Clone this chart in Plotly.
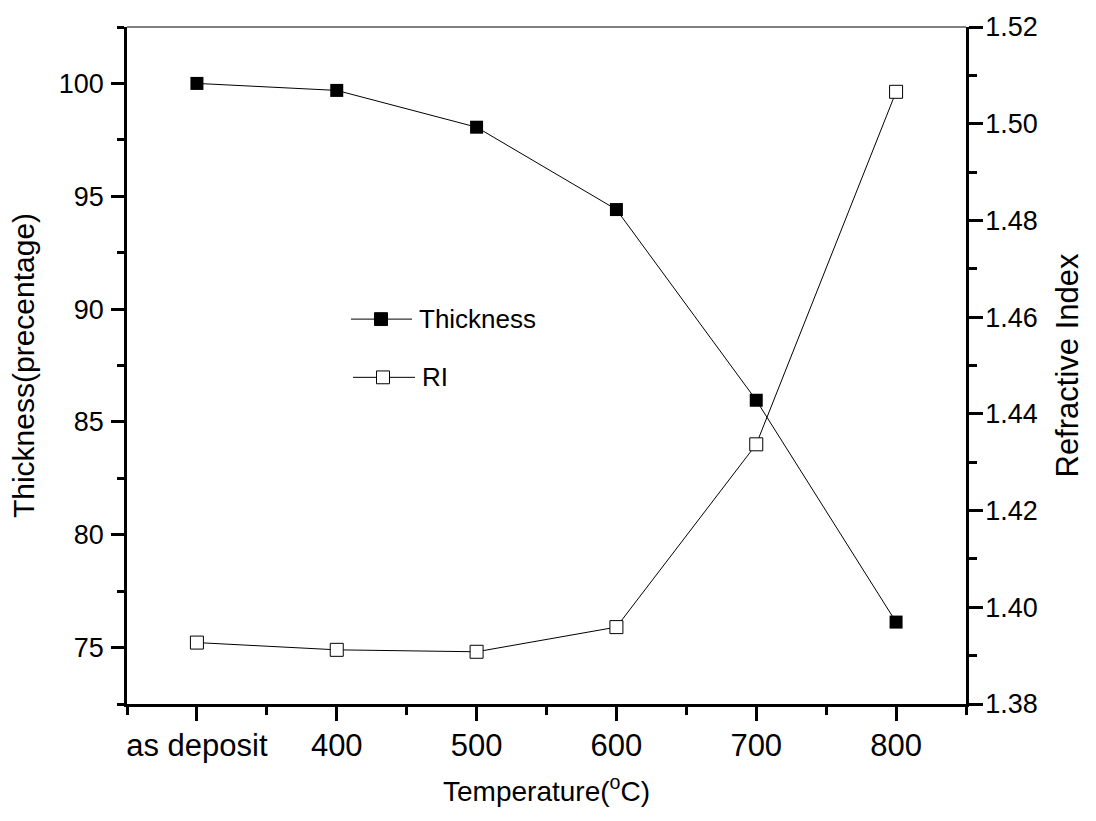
import plotly.graph_objects as go

# ---- data ----
temperatures = ["as deposit", "400", "500", "600", "700", "800"]
thickness = [100.0, 99.69, 98.06, 94.41, 85.96, 76.13]
refractive_index = [1.3927, 1.3912, 1.3908, 1.3959, 1.4337, 1.5066]

thick_ticks = [75, 80, 85, 90, 95, 100]
thick_minor = [72.5, 77.5, 82.5, 87.5, 92.5, 97.5, 102.5]
ri_ticks = [1.38, 1.40, 1.42, 1.44, 1.46, 1.48, 1.50, 1.52]
ri_minor = [1.39, 1.41, 1.43, 1.45, 1.47, 1.49, 1.51]

x_idx = list(range(len(temperatures)))

FONT = "Liberation Sans, Arial, sans-serif"
XTICK_SIZE = 31
YTICK_SIZE = 27
XTITLE_SIZE = 28
YTITLE_SIZE = 30
Y2TITLE_SIZE = 31
LEGEND_SIZE = 26

fig = go.Figure()

fig.add_trace(go.Scatter(
    x=x_idx, y=thickness, name="Thickness", mode="lines+markers",
    line=dict(color="black", width=1),
    marker=dict(symbol="square", size=13, color="black",
                line=dict(color="black", width=0)),
    showlegend=False, yaxis="y",
))
fig.add_trace(go.Scatter(
    x=x_idx, y=refractive_index, name="RI", mode="lines+markers",
    line=dict(color="black", width=1),
    marker=dict(symbol="square", size=13, color="white",
                line=dict(color="black", width=1)),
    showlegend=False, yaxis="y2",
))

# Plot area in pixels (for legend placement)
W, H = 1096, 821
L, R, T, B = 127, 130, 18, 117
pw, ph = W - L - R, H - T - B


def px(xp):
    return (xp - L) / pw


def py(yp):
    return (H - B - yp) / ph


shapes = []
annotations = []
# custom legend
legend_items = [
    ("Thickness", 351, 412, 381, 314, "black"),
    ("RI", 353, 415, 383, 373, "white"),
]
for label, x0, x1, xm, yc, fill in legend_items:
    shapes.append(dict(type="line", xref="paper", yref="paper",
                       x0=px(x0), x1=px(x1), y0=py(yc), y1=py(yc),
                       line=dict(color="black", width=1)))
    shapes.append(dict(type="rect", xref="paper", yref="paper",
                       x0=px(xm - 6.5), x1=px(xm + 6.5),
                       y0=py(yc + 6.5), y1=py(yc - 6.5),
                       fillcolor=fill, line=dict(color="black", width=1)))
    annotations.append(dict(text=label, xref="paper", yref="paper",
                            x=px(x1 + 5), y=py(yc), xanchor="left",
                            yanchor="middle", showarrow=False,
                            font=dict(family=FONT, size=LEGEND_SIZE, color="black")))

# thin top frame line
shapes.append(dict(type="line", xref="paper", yref="paper",
                   x0=0, x1=1, y0=1, y1=1,
                   line=dict(color="black", width=1)))

fig.update_layout(
    width=W, height=H,
    margin=dict(l=L, r=R, t=T, b=B),
    paper_bgcolor="white", plot_bgcolor="white",
    font=dict(family=FONT, size=YTICK_SIZE, color="black"),
    shapes=shapes, annotations=annotations,
    xaxis=dict(
        range=[-0.5, len(temperatures) - 0.5],
        tickmode="array", tickvals=x_idx, ticktext=temperatures,
        tickfont=dict(family=FONT, size=XTICK_SIZE, color="black"),
        ticks="outside", ticklen=14, tickwidth=2.5, tickcolor="black",
        showline=True, linewidth=2.5, linecolor="black",
        showgrid=False, zeroline=False,
        ticklabelstandoff=-2,
        minor=dict(tickmode="array",
                   tickvals=[i - 0.5 for i in range(len(temperatures) + 1)],
                   ticks="outside", ticklen=8, tickwidth=2.5, tickcolor="black",
                   showgrid=False),
        title=dict(text="Temperature(<sup>o</sup>C)",
                   font=dict(family=FONT, size=XTITLE_SIZE), standoff=20),
    ),
    yaxis=dict(
        range=[72.5, 102.5],
        tickmode="array", tickvals=thick_ticks,
        tickfont=dict(family=FONT, size=YTICK_SIZE, color="black"),
        ticks="outside", ticklen=13, tickwidth=2.5, tickcolor="black",
        showline=True, linewidth=2.5, linecolor="black",
        showgrid=False, zeroline=False,
        ticklabelstandoff=2,
        minor=dict(tickmode="array", tickvals=thick_minor,
                   ticks="outside", ticklen=7, tickwidth=2.5, tickcolor="black",
                   showgrid=False),
        title=dict(text="Thickness(precentage)",
                   font=dict(family=FONT, size=YTITLE_SIZE), standoff=16),
    ),
    yaxis2=dict(
        overlaying="y", side="right",
        range=[1.38, 1.52],
        tickmode="array", tickvals=ri_ticks,
        tickformat=".2f",
        tickfont=dict(family=FONT, size=YTICK_SIZE, color="black"),
        ticks="outside", ticklen=14, tickwidth=2.5, tickcolor="black",
        showline=True, linewidth=2.5, linecolor="black",
        showgrid=False, zeroline=False,
        ticklabelstandoff=-3,
        minor=dict(tickmode="array", tickvals=ri_minor,
                   ticks="outside", ticklen=8, tickwidth=2.5, tickcolor="black",
                   showgrid=False),
        title=dict(text="Refractive Index",
                   font=dict(family=FONT, size=Y2TITLE_SIZE), standoff=20),
    ),
)

fig.write_html("out.html")
